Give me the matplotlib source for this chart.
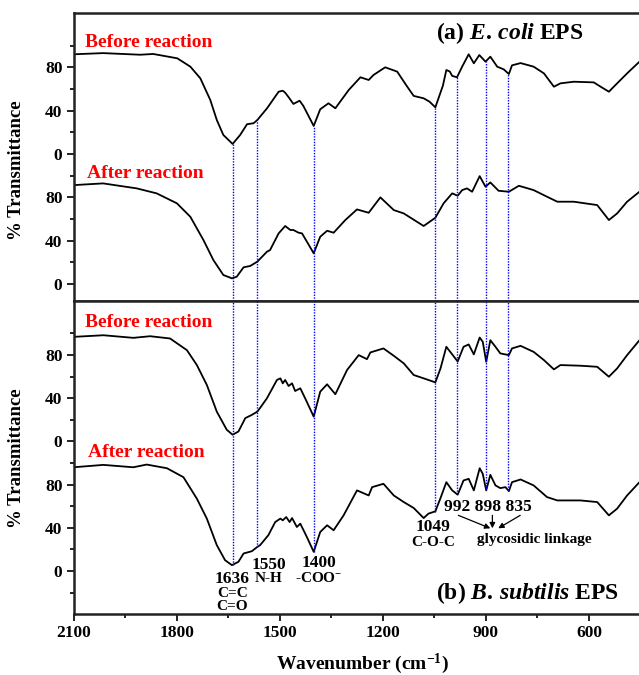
"""FTIR spectra of E. coli and B. subtilis EPS before and after reaction.

Two stacked panels; in each one the 'after' spectrum is drawn at its own
values and the 'before' spectrum is lifted by OFFSET so the two share one axis.
Output: out.png
"""

import numpy as np
import matplotlib.pyplot as plt
from matplotlib.ticker import FixedLocator, MultipleLocator

OFFSET = 120  # vertical shift of the 'before' trace

# wavenumber (cm-1), % transmittance
ECOLI_BEFORE_WN = [2100, 2014, 1906, 1868, 1798, 1760, 1731, 1702, 1683, 1664,
                   1637, 1615, 1595, 1576, 1565, 1537, 1503, 1491, 1484, 1474,
                   1460, 1442, 1431, 1401, 1382, 1358, 1338, 1299, 1265, 1241,
                   1227, 1193, 1158, 1129, 1110, 1081, 1064, 1047, 1025, 1015,
                   1005, 998, 984, 969, 950, 935, 919, 901, 887, 867,
                   848, 833, 824, 799, 761, 731, 702, 683, 644, 586,
                   566, 542, 518, 489, 453]
ECOLI_BEFORE_T = [91.9, 93.0, 91.5, 92.2, 88.2, 80.5, 69.8, 49.8, 31.3, 17.5,
                  9.2, 17.5, 27.4, 28.3, 31.3, 42.0, 57.4, 58.3, 56.5, 52.3,
                  46.1, 49.1, 44.2, 25.8, 41.2, 46.7, 42.1, 59.0, 70.7, 68.2,
                  72.8, 79.9, 75.9, 62.1, 53.5, 51.3, 48.2, 43.0, 63.0, 77.4,
                  76.0, 72.0, 70.7, 80.5, 91.9, 83.6, 91.2, 85.1, 89.7, 80.5,
                  78.0, 73.7, 81.7, 83.8, 80.5, 74.3, 62.0, 65.1, 66.6, 66.0,
                  62.0, 57.4, 65.1, 74.3, 85.1]

ECOLI_AFTER_WN = [2100, 2014, 1916, 1858, 1799, 1760, 1722, 1693, 1664, 1639,
                  1625, 1605, 1586, 1565, 1537, 1528, 1503, 1484, 1469, 1460,
                  1445, 1435, 1401, 1382, 1362, 1343, 1309, 1275, 1241, 1207,
                  1168, 1139, 1081, 1047, 1023, 998, 982, 969, 955, 940,
                  918, 901, 887, 863, 833, 804, 761, 722, 692, 644,
                  576, 542, 518, 489, 453]
ECOLI_AFTER_T = [91.2, 92.8, 88.2, 83.6, 74.4, 62.0, 40.6, 22.1, 8.3, 5.2,
                 6.7, 15.4, 16.6, 20.6, 29.8, 31.3, 46.7, 53.5, 49.8, 49.8,
                 47.3, 46.7, 28.3, 43.6, 49.1, 47.3, 59.0, 68.8, 65.7, 79.9,
                 68.2, 65.1, 53.5, 61.1, 74.4, 83.6, 81.4, 86.6, 88.2, 85.1,
                 99.5, 89.7, 93.7, 86.0, 85.1, 90.6, 86.6, 80.5, 75.9, 75.9,
                 72.8, 59.0, 65.1, 75.9, 85.1]

BSUB_BEFORE_WN = [2100, 2013, 1926, 1877, 1819, 1770, 1741, 1712, 1683, 1654,
                  1637, 1620, 1600, 1581, 1565, 1557, 1537, 1508, 1498, 1491,
                  1484, 1474, 1464, 1455, 1440, 1426, 1401, 1382, 1362, 1338,
                  1304, 1270, 1246, 1236, 1198, 1168, 1139, 1110, 1081, 1047,
                  1032, 1015, 998, 982, 965, 950, 935, 918, 909, 899,
                  887, 872, 858, 833, 824, 799, 761, 731, 702, 683,
                  625, 576, 542, 518, 489, 453]
BSUB_BEFORE_T = [96.8, 98.3, 95.9, 97.4, 95.3, 84.5, 70.7, 52.3, 27.6, 10.8,
                 6.2, 9.2, 21.6, 24.6, 27.6, 31.0, 40.0, 56.9, 58.4, 53.8,
                 56.9, 51.3, 53.8, 46.7, 49.2, 40.0, 23.0, 46.1, 52.9, 43.7,
                 66.1, 79.9, 76.2, 82.4, 86.1, 79.3, 72.3, 61.5, 58.4, 54.7,
                 67.6, 87.6, 80.6, 74.0, 87.6, 89.8, 80.6, 96.2, 92.2, 73.7,
                 93.7, 87.6, 81.5, 79.9, 86.1, 88.5, 82.9, 75.3, 66.7, 70.7,
                 70.1, 69.1, 59.9, 67.6, 79.9, 93.7]

BSUB_AFTER_WN = [2100, 2013, 1926, 1887, 1828, 1780, 1741, 1712, 1683, 1659,
                 1639, 1620, 1605, 1581, 1565, 1557, 1533, 1513, 1498, 1491,
                 1481, 1471, 1464, 1450, 1440, 1421, 1401, 1382, 1362, 1343,
                 1314, 1275, 1241, 1231, 1198, 1168, 1139, 1110, 1081, 1067,
                 1047, 1032, 1015, 998, 982, 965, 950, 935, 918, 909,
                 899, 887, 872, 858, 843, 833, 824, 799, 761, 722,
                 692, 625, 576, 542, 518, 489, 453]
BSUB_AFTER_T = [96.1, 98.3, 96.1, 98.6, 95.2, 86.9, 67.0, 48.6, 24.0, 10.1,
                5.5, 8.6, 16.3, 18.4, 22.4, 24.0, 33.2, 45.4, 48.6, 47.0,
                50.0, 45.4, 49.1, 40.8, 43.9, 31.6, 17.8, 36.2, 42.4, 37.8,
                51.6, 74.7, 70.0, 77.7, 80.8, 70.0, 63.9, 58.4, 49.1, 53.2,
                55.3, 67.6, 82.3, 74.7, 70.7, 83.9, 85.4, 74.7, 95.2, 90.0,
                74.7, 89.1, 79.3, 76.8, 77.7, 74.0, 82.3, 84.8, 79.3, 68.5,
                65.4, 65.4, 63.9, 51.6, 57.8, 70.0, 82.3]

# positions of the dotted guide lines (as drawn)
BAND_POS = [1637, 1565, 1401, 1049, 984, 900, 835]

FONT = 'Liberation Serif'
plt.rcParams.update({
    'font.family': FONT,
    'font.weight': 'bold',
    'mathtext.fontset': 'custom',
    'mathtext.rm': f'{FONT}:bold',
    'mathtext.bf': f'{FONT}:bold',
    'mathtext.it': f'{FONT}:italic:bold',
})

SPINE = '#222222'
W, H = 639, 675


def interp(wn, t, x):
    return np.interp(x, np.asarray(wn)[::-1], np.asarray(t)[::-1])


def style_axes(ax, ylim, minor_ticks):
    ax.set_xlim(2100, 450)
    ax.set_ylim(*ylim)
    ax.yaxis.set_major_locator(FixedLocator([0, 40, 80, 120, 160, 200]))
    ax.set_yticklabels(['0', '40', '80', '0', '40', '80'])
    ax.yaxis.set_minor_locator(FixedLocator(minor_ticks))
    ax.xaxis.set_major_locator(MultipleLocator(300))
    ax.xaxis.set_minor_locator(MultipleLocator(150))
    ax.tick_params(which='both', direction='out', width=1.4, color=SPINE,
                   labelsize=12.5, pad=3)
    ax.tick_params(which='major', length=5)
    ax.tick_params(which='minor', length=3)
    for side in ('left', 'top', 'bottom'):
        ax.spines[side].set_linewidth(1.8)
        ax.spines[side].set_color(SPINE)
    ax.spines['right'].set_visible(False)
    ax.set_ylabel('% Transmittance', fontsize=13.5, fontweight='bold')
    for lab in ax.get_xticklabels() + ax.get_yticklabels():
        lab.set_fontweight('bold')


fig = plt.figure(figsize=(W / 100, H / 100), dpi=100)
ax_a = fig.add_axes([73.5 / W, (H - 301) / H, 567 / W, 288 / H])
ax_b = fig.add_axes([73.5 / W, (H - 614.3) / H, 567 / W, 313.3 / H])

# ---- panel (a): E. coli
ax_a.plot(ECOLI_BEFORE_WN, np.array(ECOLI_BEFORE_T) + OFFSET, color='black', lw=1.3)
ax_a.plot(ECOLI_AFTER_WN, ECOLI_AFTER_T, color='black', lw=1.3)
style_axes(ax_a, (-15.7, 250), [20, 60, 100, 140, 180, 220])
ax_a.tick_params(axis='x', which='both', bottom=False, labelbottom=False)
ax_a.yaxis.set_label_coords(-0.085, 0.455)

# ---- panel (b): B. subtilis
ax_b.plot(BSUB_BEFORE_WN, np.array(BSUB_BEFORE_T) + OFFSET, color='black', lw=1.3)
ax_b.plot(BSUB_AFTER_WN, BSUB_AFTER_T, color='black', lw=1.3)
style_axes(ax_b, (-40, 250), [-20, 20, 60, 100, 140, 180, 220])
ax_b.yaxis.set_label_coords(-0.085, 0.499)
ax_b.set_xlabel('Wavenumber (cm$^{-1}$)', fontsize=14, fontweight='bold')
ax_b.xaxis.set_label_coords(0.509, -0.118)

# dotted guide lines from the top 'before' trace down to the bottom 'after' trace
top_start = interp(ECOLI_BEFORE_WN, ECOLI_BEFORE_T, BAND_POS) + OFFSET
bot_end = interp(BSUB_AFTER_WN, BSUB_AFTER_T, BAND_POS)
ax_a.vlines(BAND_POS, -15.7, top_start, colors='blue', linestyles=(0, (1, 1)), lw=1)
ax_b.vlines(BAND_POS, bot_end, 250, colors='blue', linestyles=(0, (1, 1)), lw=1)

# red trace labels
red = dict(color='#ff0000', fontsize=14, fontweight='bold', va='center', ha='left')
ax_a.text(0.020, 0.896, 'Before reaction', transform=ax_a.transAxes, **red)
ax_a.text(0.024, 0.444, 'After reaction', transform=ax_a.transAxes, **red)
ax_b.text(0.020, 0.930, 'Before reaction', transform=ax_b.transAxes, **red)
ax_b.text(0.026, 0.515, 'After reaction', transform=ax_b.transAxes, **red)

# panel titles
ax_a.text(0.769, 0.931, r'(a) $\mathit{E.\,coli}$ EPS',
          transform=ax_a.transAxes, fontsize=17, ha='center', va='center')
ax_b.text(0.801, 0.068, r'(b) $\mathit{B.\,subtilis}$ EPS',
          transform=ax_b.transAxes, fontsize=17, ha='center', va='center')

# band annotations (panel b, data coordinates)
num = dict(fontsize=12.5, ha='center', va='center', fontweight='bold')
grp = dict(fontsize=11, ha='center', va='center', fontweight='bold')
ax_b.text(1638, -7.4, '1636', **num)
ax_b.text(1638, -20.3, 'C=C', **grp)
ax_b.text(1638, -33.2, 'C=O', **grp)
ax_b.text(1530, 5.5, '1550', **num)
ax_b.text(1533, -6.5, 'N-H', **grp)
ax_b.text(1385, 7.4, '1400', **num)
ax_b.text(1385, -6.5, '-COO$^{-}$', **grp)
ax_b.text(1053, 40.6, '1049', **num)
ax_b.text(1053, 26.7, 'C-O-C', **grp)
ax_b.text(894, 59, '992 898 835', **num)
ax_b.text(759, 29.5, 'glycosidic linkage', **grp)
for (x0, x1) in [(980, 887), (881, 881), (800, 864)]:
    ax_b.annotate('', xy=(x1, 39.6), xytext=(x0, 51.6),
                  arrowprops=dict(arrowstyle='-|>', color='black', lw=0.9,
                                  mutation_scale=8, shrinkA=0, shrinkB=0))

fig.savefig('out.png', dpi=100)
plt.close(fig)
